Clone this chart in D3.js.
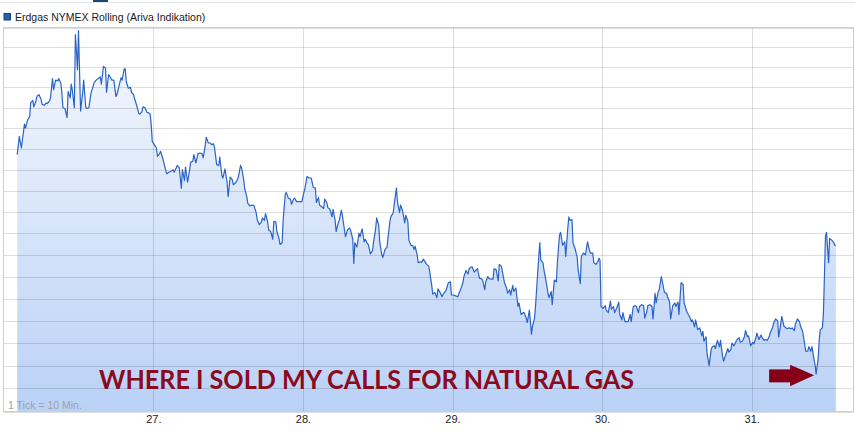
<!DOCTYPE html>
<html>
<head>
<meta charset="utf-8">
<script src="https://cdn.jsdelivr.net/npm/d3@7"></script>
<style>
  html, body { margin: 0; padding: 0; background: #fff; }
  svg { display: block; }
  .grid line { stroke: #000; stroke-opacity: 0.13; shape-rendering: crispEdges; }
  .grid path { display: none; }
  .x-axis path, .x-axis line { display: none; }
  .x-axis text { font: 11px "Liberation Sans", Arial, sans-serif; fill: #222; }
</style>
</head>
<body>
<div id="chart"></div>
<script>
/* ───── DATA: one array per trading day, [10-min tick of the day, price] ───── */
const day26 = [[13,2.893],[15,2.915],[17,2.901],[18,2.911],[20,2.930],[21,2.925],[23,2.935],[25,2.939],[26,2.956],[28,2.959],[29,2.951],[31,2.958],[32,2.964],[34,2.966],[36,2.960],[37,2.954],[39,2.953],[41,2.956],[42,2.955],[44,2.958],[45,2.962],[47,2.986],[48,2.972],[50,2.984],[52,2.983],[53,2.986],[55,2.980],[56,2.968],[57,2.950],[59,2.949],[61,2.938],[62,2.970],[64,2.962],[65,2.979],[66,2.972],[68,2.950],[69,3.041],[70,3.020],[71,2.997],[72,3.046],[74,2.946],[76,2.968],[77,2.984],[79,2.950],[80,2.949],[82,2.950],[84,2.968],[86,2.976],[87,2.981],[89,2.984],[91,2.986],[93,2.988],[94,2.979],[96,3.001],[98,2.999],[99,2.969],[101,2.991],[103,2.987],[104,2.984],[106,2.984],[108,2.964],[109,2.966],[111,2.977],[113,2.987],[114,2.984],[116,2.998],[117,2.998],[118,2.982],[120,2.974],[122,2.975],[123,2.969],[125,2.966],[126,2.961],[128,2.953],[130,2.943],[131,2.942],[133,2.945],[134,2.951],[136,2.950],[138,2.944],[139,2.944],[141,2.942],[142,2.929],[143,2.909]];
const day27 = [[1,2.905],[3,2.901],[4,2.891],[6,2.894],[7,2.897],[9,2.889],[11,2.879],[13,2.870],[15,2.872],[17,2.873],[19,2.875],[20,2.872],[22,2.877],[23,2.880],[25,2.877],[27,2.853],[28,2.875],[30,2.862],[31,2.878],[33,2.860],[35,2.875],[36,2.884],[38,2.885],[39,2.893],[41,2.883],[43,2.894],[45,2.895],[47,2.894],[48,2.889],[50,2.904],[51,2.914],[53,2.907],[55,2.907],[56,2.905],[58,2.906],[59,2.901],[61,2.881],[63,2.880],[64,2.890],[66,2.868],[67,2.865],[69,2.876],[71,2.860],[72,2.843],[74,2.866],[76,2.863],[77,2.857],[79,2.859],[81,2.863],[82,2.867],[84,2.880],[85,2.877],[87,2.863],[88,2.852],[90,2.843],[91,2.835],[93,2.832],[95,2.833],[97,2.832],[99,2.824],[100,2.816],[102,2.810],[104,2.813],[105,2.818],[107,2.815],[108,2.823],[110,2.814],[111,2.804],[113,2.802],[115,2.793],[116,2.814],[118,2.813],[119,2.802],[121,2.794],[122,2.787],[124,2.789],[125,2.816],[127,2.845],[128,2.848],[130,2.841],[132,2.840],[133,2.834],[135,2.840],[136,2.841],[138,2.837],[141,2.837],[143,2.837]];
const day28 = [[0,2.843],[2,2.853],[4,2.867],[6,2.865],[8,2.865],[10,2.854],[12,2.853],[13,2.836],[15,2.842],[16,2.833],[18,2.831],[20,2.829],[21,2.840],[23,2.836],[24,2.830],[26,2.828],[28,2.819],[29,2.828],[31,2.815],[32,2.802],[34,2.812],[35,2.815],[37,2.827],[38,2.821],[40,2.804],[41,2.796],[43,2.804],[45,2.806],[46,2.803],[48,2.793],[49,2.765],[50,2.789],[52,2.784],[54,2.800],[55,2.796],[57,2.805],[59,2.790],[60,2.793],[62,2.788],[63,2.787],[65,2.776],[67,2.780],[68,2.790],[70,2.805],[71,2.818],[73,2.809],[74,2.789],[76,2.775],[77,2.772],[79,2.781],[81,2.784],[82,2.796],[84,2.816],[85,2.820],[87,2.824],[88,2.835],[90,2.853],[91,2.837],[93,2.824],[94,2.833],[96,2.826],[98,2.812],[99,2.821],[101,2.814],[102,2.792],[104,2.786],[106,2.785],[107,2.781],[108,2.785],[110,2.775],[111,2.766],[113,2.767],[114,2.766],[116,2.770],[118,2.766],[119,2.764],[121,2.762],[122,2.756],[124,2.740],[125,2.730],[127,2.732],[129,2.726],[130,2.736],[132,2.732],[134,2.727],[135,2.730],[137,2.733],[138,2.735],[140,2.743],[142,2.744],[143,2.729]];
const day29 = [[1,2.729],[3,2.728],[5,2.727],[7,2.733],[8,2.736],[10,2.743],[11,2.750],[13,2.757],[15,2.753],[16,2.759],[18,2.761],[19,2.761],[21,2.755],[23,2.758],[24,2.759],[26,2.748],[27,2.748],[29,2.746],[31,2.735],[32,2.744],[34,2.750],[35,2.748],[37,2.747],[39,2.747],[40,2.759],[42,2.758],[44,2.745],[45,2.764],[47,2.762],[48,2.756],[50,2.743],[52,2.737],[53,2.731],[55,2.735],[56,2.729],[58,2.740],[59,2.733],[61,2.737],[63,2.716],[64,2.720],[66,2.707],[68,2.709],[69,2.709],[71,2.703],[72,2.698],[74,2.712],[75,2.699],[76,2.685],[77,2.694],[79,2.703],[80,2.718],[82,2.754],[84,2.789],[85,2.769],[87,2.766],[88,2.758],[90,2.745],[92,2.731],[93,2.726],[95,2.733],[96,2.718],[98,2.746],[100,2.744],[101,2.767],[103,2.798],[104,2.801],[106,2.786],[108,2.790],[109,2.773],[111,2.806],[112,2.819],[113,2.815],[115,2.816],[116,2.789],[118,2.782],[120,2.772],[121,2.757],[123,2.742],[124,2.773],[126,2.777],[128,2.775],[129,2.783],[130,2.790],[132,2.779],[133,2.777],[135,2.777],[136,2.766],[138,2.764],[140,2.767],[141,2.771],[142,2.769],[143,2.716]];
const day30 = [[1,2.714],[3,2.717],[4,2.712],[6,2.709],[8,2.722],[9,2.713],[11,2.716],[12,2.709],[14,2.714],[16,2.721],[17,2.707],[19,2.701],[20,2.709],[22,2.699],[24,2.699],[25,2.699],[27,2.707],[28,2.699],[30,2.716],[32,2.717],[33,2.716],[35,2.709],[36,2.716],[38,2.718],[40,2.717],[41,2.703],[43,2.710],[44,2.717],[46,2.718],[48,2.716],[49,2.702],[51,2.731],[52,2.720],[54,2.733],[55,2.735],[57,2.750],[58,2.744],[60,2.732],[62,2.731],[63,2.727],[65,2.721],[66,2.702],[68,2.717],[70,2.720],[71,2.716],[73,2.721],[74,2.707],[76,2.743],[78,2.741],[79,2.720],[81,2.712],[82,2.709],[84,2.705],[86,2.699],[87,2.701],[89,2.693],[90,2.701],[92,2.690],[94,2.692],[96,2.683],[97,2.688],[98,2.677],[100,2.682],[101,2.664],[103,2.650],[105,2.668],[106,2.671],[108,2.672],[109,2.669],[111,2.678],[113,2.671],[114,2.678],[116,2.660],[117,2.655],[119,2.662],[121,2.669],[122,2.665],[124,2.668],[125,2.675],[127,2.672],[129,2.677],[130,2.679],[132,2.681],[133,2.676],[135,2.677],[137,2.682],[138,2.689],[140,2.682],[141,2.683],[143,2.672]];
const day31 = [[1,2.676],[2,2.674],[4,2.681],[5,2.686],[7,2.679],[9,2.684],[10,2.681],[12,2.678],[13,2.679],[15,2.678],[17,2.683],[18,2.687],[20,2.692],[21,2.697],[23,2.702],[25,2.700],[26,2.682],[28,2.697],[29,2.705],[31,2.694],[33,2.692],[34,2.691],[36,2.692],[38,2.691],[39,2.692],[41,2.689],[42,2.696],[44,2.702],[46,2.699],[47,2.694],[49,2.688],[50,2.681],[52,2.666],[54,2.666],[55,2.671],[57,2.666],[58,2.671],[60,2.657],[61,2.651],[62,2.641],[64,2.658],[65,2.679],[66,2.690],[68,2.692],[69,2.707],[70,2.750],[71,2.796],[72,2.801],[73,2.783],[74,2.766],[75,2.794],[77,2.792],[79,2.789],[80,2.786],[81,2.786]];

const tickDays   = [27, 28, 29, 30, 31];
const tickLabels = ['27.', '28.', '29.', '30.', '31.'];
const gridPrices = d3.range(19).map((i) => +(2.6 + i * 0.025).toFixed(3)); // log-scaled price grid

const seriesName = 'Erdgas NYMEX Rolling (Ariva Indikation)';
const tickNote   = '1 Tick = 10 Min.';
const callout    = 'WHERE I SOLD MY CALLS FOR NATURAL GAS';
/* ─────────────────────────────────────────────────────────────────────────── */

const W = 855, H = 433;
const plot = { left: 3, right: 853, top: 27.5, bottom: 411.5 };

const series = [[26, day26], [27, day27], [28, day28], [29, day29], [30, day30], [31, day31]]
  .flatMap(([day, rows]) => rows.map(([tick, value]) => ({
    date: new Date(2018, 11, day, 0, tick * 10),
    value,
  })));

const x = d3.scaleTime()
  .domain([new Date(2018, 11, 26), new Date(2018, 11, 31)])
  .range([3.7, 751.7]);

const y = d3.scaleLog()
  .domain([2.6, 3.05])
  .range([plot.bottom, plot.top]);

const svg = d3.select('#chart')
  .append('svg')
  .attr('width', W)
  .attr('height', H)
  .attr('viewBox', `0 0 ${W} ${H}`);

// gradient for the area
const grad = svg.append('defs').append('linearGradient')
  .attr('id', 'fillGrad')
  .attr('gradientUnits', 'userSpaceOnUse')
  .attr('x1', 0).attr('x2', 0)
  .attr('y1', plot.top).attr('y2', plot.bottom);
grad.append('stop').attr('offset', '0%').attr('stop-color', '#f6f9fe');
grad.append('stop').attr('offset', '100%').attr('stop-color', '#bad1f6');

// top strip of the page
svg.append('line')
  .attr('x1', 0).attr('x2', W).attr('y1', 2.5).attr('y2', 2.5)
  .attr('stroke', '#e4e8ec');
svg.append('rect')
  .attr('x', 93).attr('y', 0).attr('width', 15).attr('height', 2)
  .attr('fill', '#1d4a66');

// legend
svg.append('rect')
  .attr('x', 4).attr('y', 13.5).attr('width', 6.5).attr('height', 6.5)
  .attr('fill', '#2a5cb0').attr('stroke', '#173f7e').attr('stroke-width', 1);
svg.append('text')
  .attr('x', 15).attr('y', 20.5)
  .attr('font-family', '"Liberation Sans", Arial, sans-serif')
  .attr('font-size', 10.5)
  .attr('fill', '#1a1a1a')
  .text(seriesName);

// area + line
const area = d3.area()
  .x((d) => x(d.date))
  .y0(plot.bottom)
  .y1((d) => y(d.value));

const line = d3.line()
  .x((d) => x(d.date))
  .y((d) => y(d.value));

svg.append('path')
  .datum(series)
  .attr('fill', 'url(#fillGrad)')
  .attr('d', area);

// gridlines on top of the fill
svg.append('g')
  .attr('class', 'grid')
  .attr('transform', `translate(${plot.left},0)`)
  .call(d3.axisLeft(y).tickValues(gridPrices).tickSize(-(plot.right - plot.left)).tickFormat(''));

const dayDates = tickDays.map((d) => new Date(2018, 11, d));
svg.append('g')
  .attr('class', 'grid')
  .attr('transform', `translate(0,${plot.bottom})`)
  .call(d3.axisBottom(x).tickValues(dayDates).tickSize(-(plot.bottom - plot.top)).tickFormat(''));

// frame
svg.append('rect')
  .attr('x', plot.left).attr('y', plot.top)
  .attr('width', plot.right - plot.left).attr('height', plot.bottom - plot.top)
  .attr('fill', 'none').attr('stroke', '#cfcfcf')
  .attr('shape-rendering', 'crispEdges');

svg.append('path')
  .datum(series)
  .attr('fill', 'none')
  .attr('stroke', '#2b63c4')
  .attr('stroke-width', 1.2)
  .attr('stroke-linejoin', 'round')
  .attr('d', line);

// x axis labels
svg.append('g')
  .attr('class', 'x-axis')
  .attr('transform', `translate(0,${plot.bottom})`)
  .call(d3.axisBottom(x).tickValues(dayDates).tickSize(0).tickPadding(4)
    .tickFormat((d, i) => tickLabels[i]));

// tick note
svg.append('text')
  .attr('x', 8).attr('y', 409)
  .attr('font-family', '"Liberation Sans", Arial, sans-serif')
  .attr('font-size', 10.5)
  .attr('fill', '#9da3ad')
  .text(tickNote);

// callout text
svg.append('text')
  .attr('x', 99).attr('y', 388.5)
  .attr('font-family', 'Lato, "Open Sans", sans-serif')
  .attr('font-weight', 'bold')
  .attr('font-size', 26)
  .attr('textLength', 535)
  .attr('lengthAdjust', 'spacingAndGlyphs')
  .attr('fill', '#8a0a1e')
  .text(callout);

// arrow pointing at the lowest print
const low = d3.least(series, (d) => d.value);
const tipX = x(low.date) - 2, tipY = y(low.value) + 1.5;
svg.append('rect')
  .attr('x', tipX - 45).attr('y', tipY - 6)
  .attr('width', 22).attr('height', 13)
  .attr('fill', '#870019');
svg.append('path')
  .attr('d', `M${tipX - 24},${tipY - 10.5} L${tipX},${tipY} L${tipX - 24},${tipY + 11} Z`)
  .attr('fill', '#870019');
</script>
</body>
</html>
